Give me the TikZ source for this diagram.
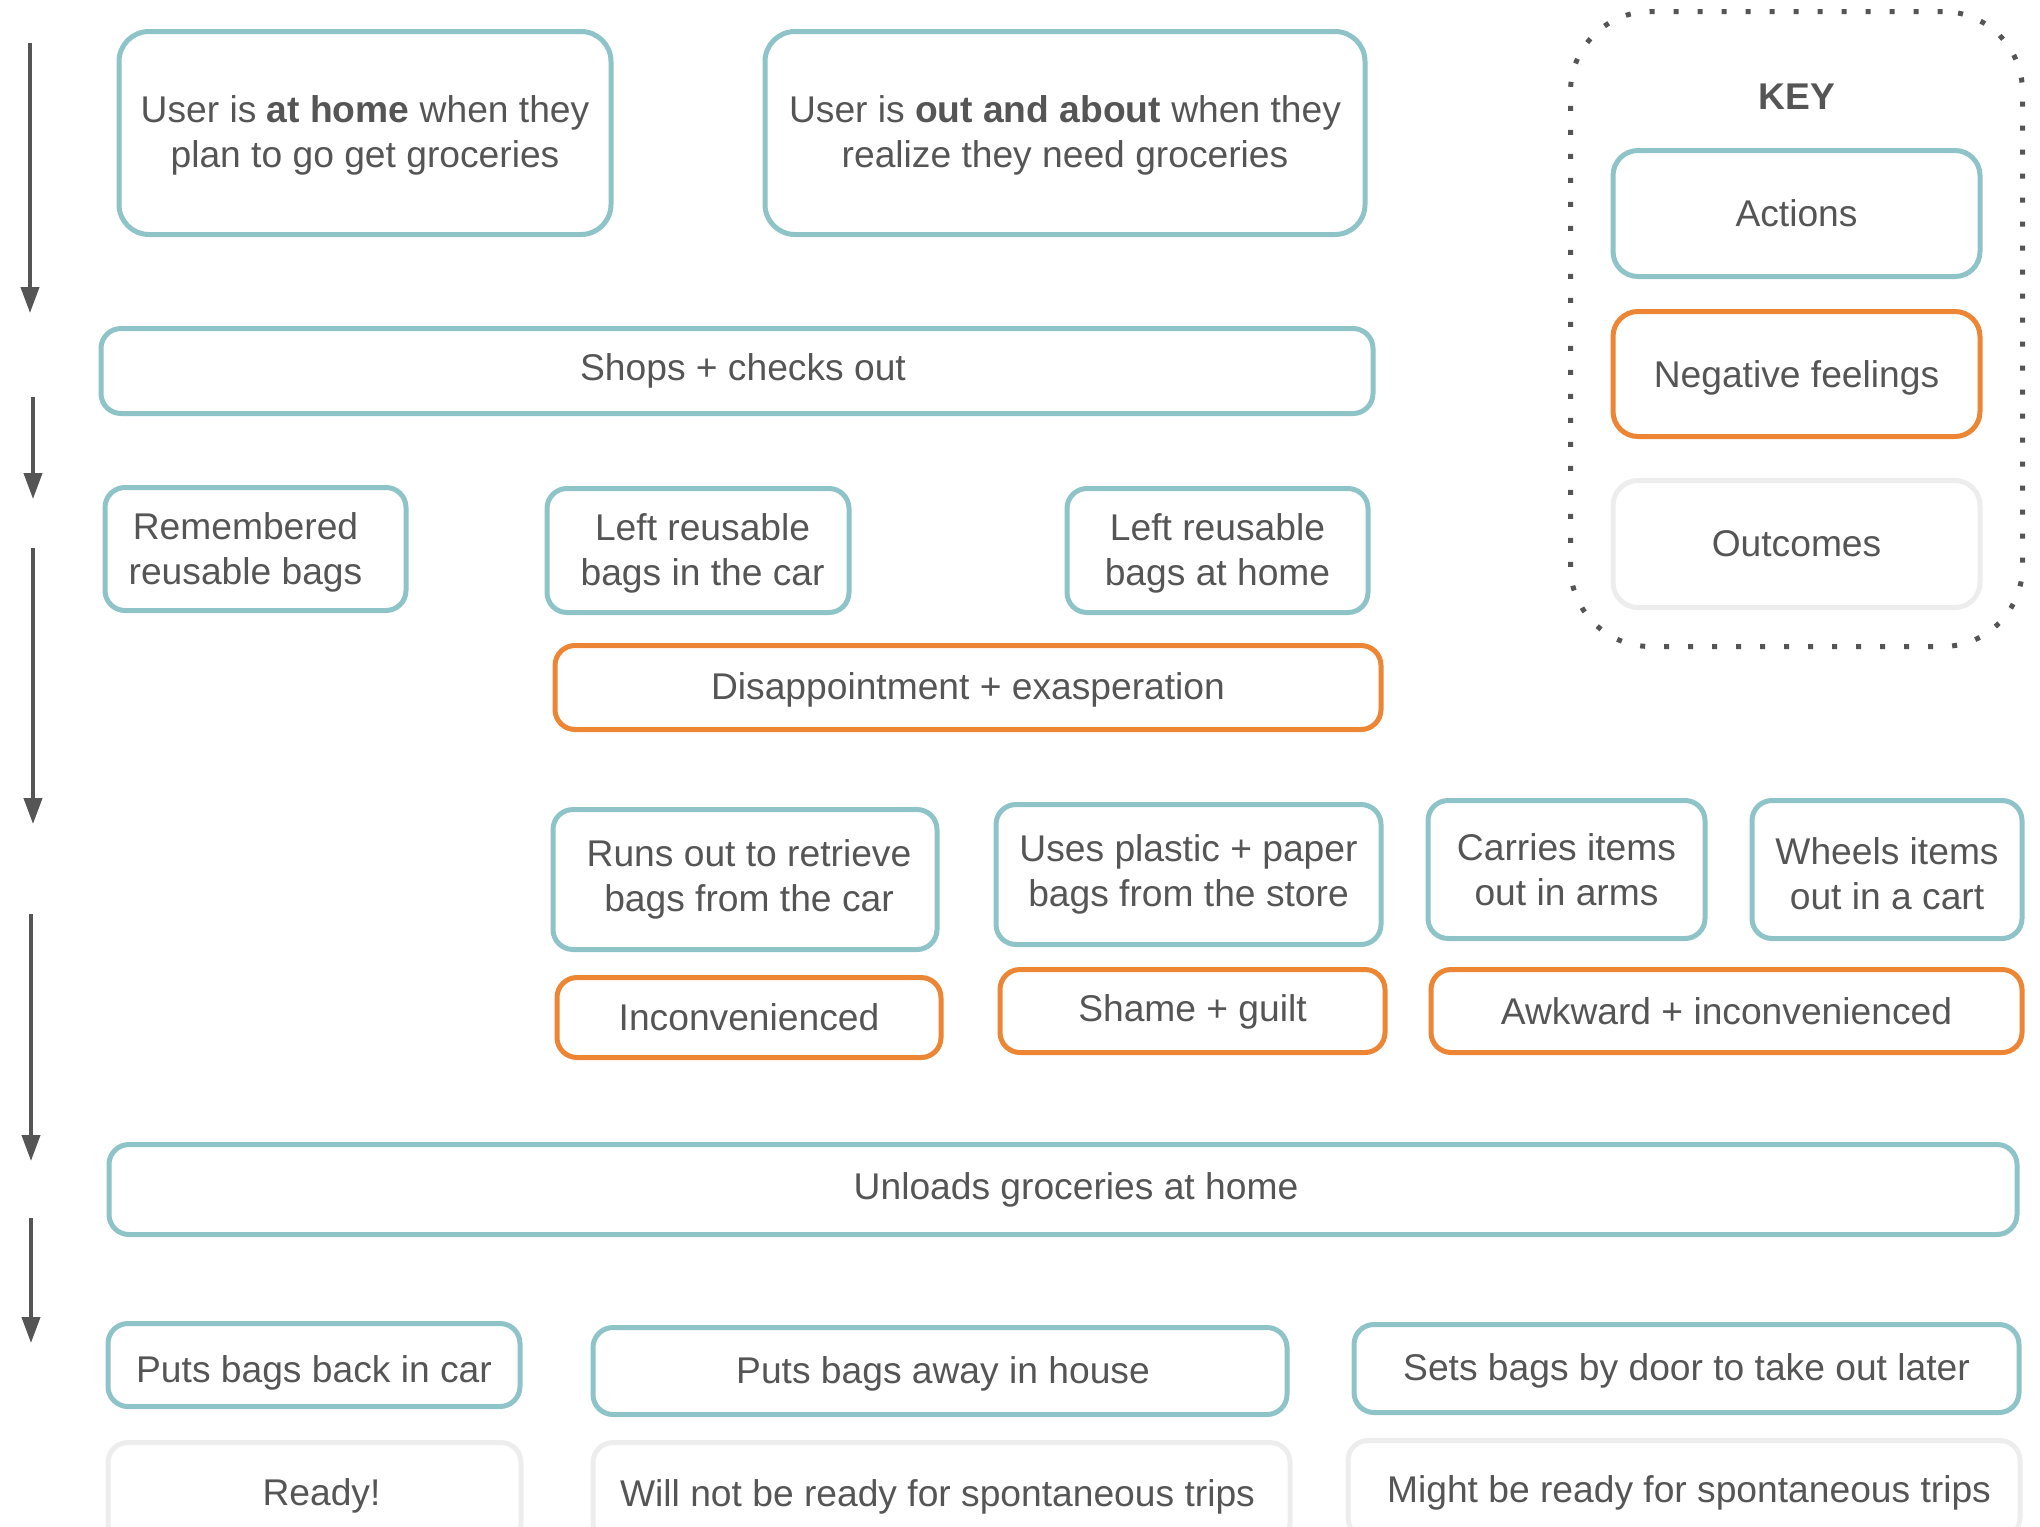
\documentclass[tikz,border=0pt]{standalone}
\usepackage{fontspec}
\setmainfont{Liberation Sans}
\usetikzlibrary{arrows.meta}
\definecolor{actcol}{HTML}{8EC3C8}
\definecolor{negcol}{HTML}{EC8634}
\definecolor{outcol}{HTML}{EDEDED}
\definecolor{txtcol}{HTML}{555555}
\definecolor{arrcol}{HTML}{555555}
\newcommand{\pre}[1]{\hspace*{#1}}
\newcommand{\up}[1]{\rule{0pt}{#1}}
\begin{document}
\begin{tikzpicture}[x=0.5pt,y=-0.5pt,
  base/.style={rectangle, rounded corners=10pt, line width=2.5pt, align=center,
    text=txtcol, font=\fontsize{18.6}{22.5}\selectfont, inner sep=0pt},
  actbox/.style={base, draw=actcol},
  bigbox/.style={actbox, rounded corners=15pt},
  negbox/.style={base, draw=negcol},
  outbox/.style={base, draw=outcol},
  keybox/.style={base, rounded corners=12.5pt},
  low/.style={text height=#1, text depth=0pt},
  flow/.style={draw=arrcol, line width=2pt, -{Triangle[width=9pt,length=13pt]}}]
\useasboundingbox (0,0) rectangle (2040,1526);

% top scenario boxes
\node[bigbox, minimum width=246pt, minimum height=101.5pt] (home) at (365,133)
  {\up{15.5pt}User is \textbf{at home} when they\\plan to go get groceries};
\node[bigbox, minimum width=300pt, minimum height=101.5pt] (out) at (1065,133)
  {\up{15.5pt}User is \textbf{out and about} when they\\realize they need groceries};

% key
\node[draw=arrcol, line width=2.5pt, dash pattern=on 2.5pt off 9.5pt, rounded corners=40pt,
  minimum width=226pt, minimum height=317.5pt, inner sep=0pt] (key) at (1796.5,329) {};
\node[text=txtcol, font=\fontsize{18.6}{22.5}\selectfont\bfseries] (keyt) at (1797,97) {KEY};
\node[keybox, draw=actcol, minimum width=183.5pt, minimum height=63pt] (kact) at (1796.5,213.5) {Actions};
\node[keybox, draw=negcol, minimum width=183.5pt, minimum height=62.5pt, low=13.3pt] (kneg) at (1796.5,374) {Negative feelings};
\node[keybox, draw=outcol, minimum width=183.5pt, minimum height=63.5pt] (kout) at (1796.5,544) {Outcomes};

% shops
\node[actbox, minimum width=636pt, minimum height=42.5pt] (shops) at (737,371) {\pre{6pt}Shops + checks out};

% bag status
\node[actbox, minimum width=150.5pt, minimum height=61.5pt] (rem) at (255.5,549)
  {\up{16.5pt}Remembered\hspace*{10pt}\\reusable bags\hspace*{10pt}};
\node[actbox, minimum width=151pt, minimum height=62pt] (lcar) at (698,550.5)
  {\up{16.7pt}\pre{4.6pt}Left reusable\\\pre{4.6pt}bags in the car};
\node[actbox, minimum width=150.5pt, minimum height=62pt] (lhome) at (1217.5,550.5)
  {\up{16.7pt}Left reusable\\bags at home};
\node[negbox, minimum width=413pt, minimum height=42pt, low=12pt] (disap) at (968,687.5) {Disappointment + exasperation};

% responses
\node[actbox, minimum width=192pt, minimum height=70pt] (runs) at (745,879.5)
  {\pre{4pt}Runs out to retrieve\\\pre{4pt}bags from the car};
\node[actbox, minimum width=192.5pt, minimum height=70pt] (uses) at (1188.5,874.5)
  {Uses plastic + paper\\bags from the store};
\node[actbox, minimum width=138.5pt, minimum height=69pt] (carr) at (1566.5,869.5)
  {Carries items\\out in arms};
\node[actbox, minimum width=135pt, minimum height=69pt] (whee) at (1887,869.5)
  {\up{18pt}Wheels items\\out in a cart};

\node[negbox, minimum width=192pt, minimum height=40pt] (inc) at (749,1017.5) {Inconvenienced};
\node[negbox, minimum width=192.5pt, minimum height=41.5pt, low=10.7pt] (shame) at (1192.5,1011) {Shame + guilt};
\node[negbox, minimum width=295.5pt, minimum height=41.5pt] (awk) at (1726.5,1011) {Awkward + inconvenienced};

% unload
\node[actbox, minimum width=954pt, minimum height=45pt] (unl) at (1063,1189.5) {\pre{13pt}Unloads groceries at home};

% after
\node[actbox, minimum width=206pt, minimum height=41.5pt, low=17.2pt] (pback) at (314,1365) {Puts bags back in car};
\node[actbox, minimum width=347pt, minimum height=43.5pt, low=12pt] (paway) at (940,1371) {\pre{3pt}Puts bags away in house};
\node[actbox, minimum width=332.5pt, minimum height=44pt, low=12pt] (sets) at (1686.5,1368.5) {Sets bags by door to take out later};

\node[outbox, minimum width=206.5pt, minimum height=50.5pt, low=12pt] (ready) at (314.5,1493) {\pre{7pt}Ready!};
\node[outbox, minimum width=348.5pt, minimum height=50.5pt, low=13.3pt] (wnot) at (941.5,1493) {Will not be ready for spontaneous trips\hspace*{4pt}};
\node[outbox, minimum width=336pt, minimum height=48.5pt, low=13.3pt] (might) at (1684,1489) {\pre{5pt}Might be ready for spontaneous trips};

% timeline arrows
\coordinate (a1s) at (30,43);   \coordinate (a1e) at (30,313);
\coordinate (a2s) at (33,397);  \coordinate (a2e) at (33,499);
\coordinate (a3s) at (33,548);  \coordinate (a3e) at (33,824);
\coordinate (a4s) at (31,914);  \coordinate (a4e) at (31,1161);
\coordinate (a5s) at (31,1218); \coordinate (a5e) at (31,1343);
\draw[flow] (a1s) -- (a1e);
\draw[flow] (a2s) -- (a2e);
\draw[flow] (a3s) -- (a3e);
\draw[flow] (a4s) -- (a4e);
\draw[flow] (a5s) -- (a5e);
\end{tikzpicture}
\end{document}
